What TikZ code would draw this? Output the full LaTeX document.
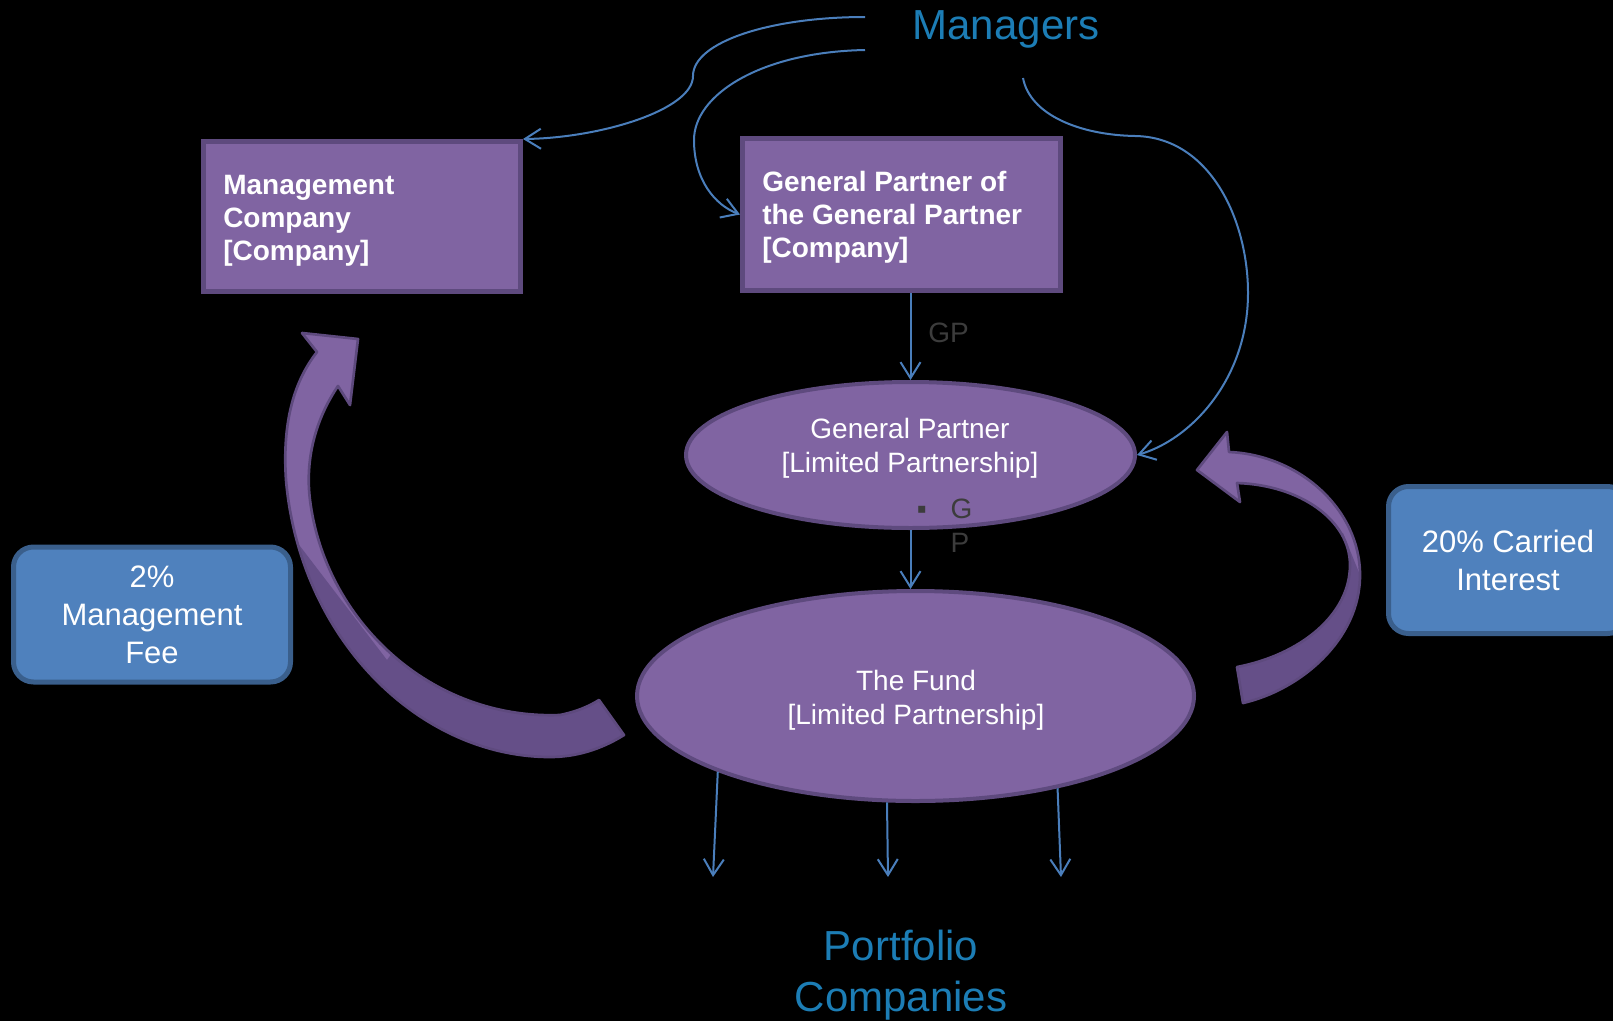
\documentclass[tikz,border=0pt]{standalone}
\usepackage{fontspec}
\setmainfont{Liberation Sans}
\usetikzlibrary{arrows.meta,shapes.geometric}
\definecolor{pfill}{HTML}{8064A2}
\definecolor{pdark}{HTML}{5E4A7E}
\definecolor{pshade}{HTML}{654F88}
\definecolor{bfill}{HTML}{4F81BD}
\definecolor{bdraw}{HTML}{3A5F8C}
\definecolor{linkblue}{HTML}{4A7EBB}
\definecolor{titleblue}{HTML}{1C7DB5}
\definecolor{lblgray}{HTML}{3C3C3C}
\newcommand\fsz[2]{\fontsize{#1}{#2}\selectfont}
\def\leftarrowpath{(358,339) -- (350,405) -- (338,386) .. controls (315,420) and (305,460) .. (310,500) .. controls (325,620) and (430,720) .. (560,715) .. controls (575,712) and (588,707) .. (599,700) -- (624,735) .. controls (600,750) and (575,757) .. (550,757) .. controls (420,757) and (300,640) .. (286,480) .. controls (282,420) and (295,380) .. (317,352) -- (302,333) -- cycle}
\def\rightarrowpath{(1197,470) -- (1227,432) -- (1229,452) .. controls (1300,455) and (1360,510) .. (1360,575) .. controls (1360,640) and (1300,690) .. (1243,703) -- (1237,667) .. controls (1300,655) and (1350,615) .. (1350,565) .. controls (1350,520) and (1300,485) .. (1237,483) -- (1240,502) -- cycle}
\begin{document}
\begin{tikzpicture}[x=0.75pt,y=-0.75pt,
  pbox/.style={rectangle, draw=pdark, fill=pfill, line width=3.75pt, inner sep=0pt},
  ptext/.style={text=white, font=\bfseries\fsz{21pt}{24.75pt}, align=left, inner sep=0pt, anchor=north west},
  pell/.style={ellipse, draw=pdark, fill=pfill, line width=3pt, inner sep=0pt},
  etext/.style={text=white, font=\fsz{21pt}{25.5pt}, align=center, inner sep=0pt},
  bbox/.style={rectangle, rounded corners=15pt, draw=bdraw, fill=bfill, line width=3.75pt, text=white, font=\fsz{23.25pt}{28.5pt}, align=center, inner sep=0pt},
  ttl/.style={text=titleblue, font=\fsz{31.5pt}{38.25pt}, align=center, inner sep=0pt},
  lbl/.style={text=lblgray, font=\fsz{21pt}{25.5pt}, inner sep=0pt},
  conn/.style={draw=linkblue, line width=1.5pt, -{Straight Barb[length=12pt,width=15pt]}},
  bigarrow/.style={draw=pdark, line width=2pt, line join=round}
]
\fill[black] (0,0) rectangle (1613,1021);
\useasboundingbox (0,0) rectangle (1613,1021);

% big curved arrows
\fill[pfill] \leftarrowpath;
\begin{scope}
\clip (250,520) -- (290,533) -- (387,660) -- (430,600) -- (700,600) -- (700,800) -- (250,800) -- cycle;
\fill[pshade] \leftarrowpath;
\end{scope}
\draw[bigarrow] \leftarrowpath;

\fill[pfill] \rightarrowpath;
\begin{scope}
\clip (1200,540) -- (1343,533) -- (1362,580) -- (1400,580) -- (1400,720) -- (1200,720) -- cycle;
\fill[pshade] \rightarrowpath;
\end{scope}
\draw[bigarrow] \rightarrowpath;

% nodes
\node[pbox, minimum width=237.75pt, minimum height=112.5pt] (mgmt) at (362,216.5) {};
\node[ptext] (mgmttxt) at (223,175) {Management\\Company\\{[}Company{]}};
\node[pbox, minimum width=238.5pt, minimum height=114pt] (gpgp) at (901.5,214.5) {};
\node[ptext] (gpgptxt) at (762,171) {General Partner of\\the General Partner\\{[}Company{]}};

\node[pell, minimum width=336.75pt, minimum height=109.5pt] (gp) at (910.5,455) {};
\node[etext] (gptxt) at (910,448) {General Partner\\{[}Limited Partnership{]}};
\node[pell, minimum width=417.75pt, minimum height=157.5pt] (fund) at (915.5,696) {};
\node[etext] (fundtxt) at (916,700) {The Fund\\{[}Limited Partnership{]}};

\node[lbl, anchor=base west] (gplbl) at (928,342) {GP};
\node[lbl, anchor=base west] (gplbl2) at (916.5,518) {\begin{tabular}[t]{@{}l@{\hspace{18pt}}l@{}}▪&G\\&P\end{tabular}};

\node[bbox, minimum width=207.75pt, minimum height=101.25pt] (fee) at (152,614.5) {2\%\\Management\\Fee};
\node[bbox, minimum width=179.25pt, minimum height=110.25pt] (carry) at (1508,560) {20\% Carried\\Interest};

\node[ttl, anchor=base] (mgrs) at (1006,39) {Managers};
\node[ttl] (port) at (901,975) {Portfolio\\Companies};

% connectors
\draw[conn] (gpgp.south -| gp.north) -- (gp.north);
\draw[conn] (gp.south) -- (gp.south |- fund.north);

\coordinate (p1) at (713,877);
\coordinate (p2) at (888,877);
\coordinate (p3) at (1061,877);
\draw[conn] (fund.201) -- (p1);
\draw[conn] (fund.255) -- (p2);
\draw[conn] (fund.327) -- (p3);

\coordinate (m1) at (865,17);
\coordinate (m2) at (865,50);
\coordinate (m3) at (1023,78);
\draw[conn] (m1) .. controls (770,17) and (693,42) .. (693,76) .. controls (693,110) and (600,138) .. (mgmt.north east);
\draw[conn] (m2) .. controls (760,52) and (694,95) .. (694,140) .. controls (694,180) and (715,205) .. (gpgp.west);
\draw[conn] (m3) .. controls (1030,115) and (1080,135) .. (1135,136) .. controls (1210,137) and (1248,220) .. (1248,293) .. controls (1248,380) and (1190,440) .. (gp.east);
\end{tikzpicture}
\end{document}
